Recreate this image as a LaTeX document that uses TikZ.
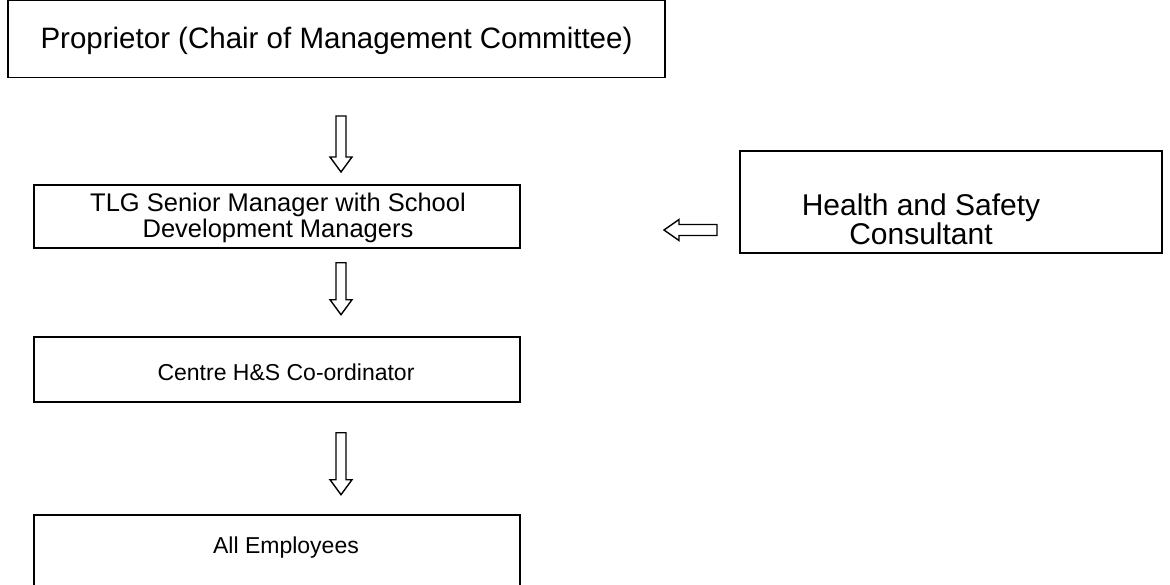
\documentclass[tikz,border=0pt]{standalone}
\usepackage{fontspec}
\setmainfont{Liberation Sans}
\usetikzlibrary{calc}
\begin{document}
\begin{tikzpicture}[x=1pt,y=-1pt,
  box/.style={draw=black,line width=1.4pt,rectangle,inner sep=0pt,align=center},
  txt/.style={inner sep=0pt,align=center},
  barrow/.style={draw=black,fill=white,line width=1.4pt,line join=miter}]
\useasboundingbox (0,0) rectangle (1170,584);
\node[box,minimum width=657pt,minimum height=77pt] (prop) at (336.5,39) {};
\node[txt,font=\fontsize{29.5}{34}\selectfont] (propt) at (336.5,41) {Proprietor (Chair of Management Committee)};
\node[box,minimum width=486pt,minimum height=63pt] (tlg) at (277,216.5) {};
\node[txt,font=\fontsize{25.5}{26}\selectfont] (tlgt) at (278,218) {TLG Senior Manager with School\\Development Managers};
\node[box,minimum width=486pt,minimum height=65pt] (ce) at (277,369.5) {};
\node[txt,font=\fontsize{23}{26}\selectfont] (cet) at (286,372) {Centre H\&S Co-ordinator};
\node[box,minimum width=486pt,minimum height=72pt] (all) at (277,551) {};
\node[txt,font=\fontsize{23}{26}\selectfont] (allt) at (286,548) {All Employees};
\node[box,line width=2pt,minimum width=422pt,minimum height=102pt] (hs) at (951,202) {};
\node[txt,font=\fontsize{30}{27}\selectfont] (hst) at (921,219) {Health and Safety\\Consultant};
% down arrows
\coordinate (a1) at (341,116);
\draw[barrow] (a1) ++(-5,0) -- ++(10,0) -- ++(0,41) -- ++(6,0) -- ++(-11,15) -- ++(-11,-15) -- ++(6,0) -- cycle;
\coordinate (a2) at ($(tlg.south)+(64,14)$);
\draw[barrow] (a2) ++(-5,0) -- ++(10,0) -- ++(0,37) -- ++(6,0) -- ++(-11,15) -- ++(-11,-15) -- ++(6,0) -- cycle;
\coordinate (a3) at ($(ce.south)+(64,30)$);
\draw[barrow] (a3) ++(-5,0) -- ++(10,0) -- ++(0,47) -- ++(6,0) -- ++(-11,15) -- ++(-11,-15) -- ++(6,0) -- cycle;
% left arrow
\coordinate (a4) at ($(hs.west)+(-22,28)$);
\draw[barrow] (a4) ++(0,-5.5) -- ++(0,11) -- ++(-38,0) -- ++(0,5) -- ++(-15,-10.5) -- ++(15,-10.5) -- ++(0,5) -- cycle;
\end{tikzpicture}
\end{document}
